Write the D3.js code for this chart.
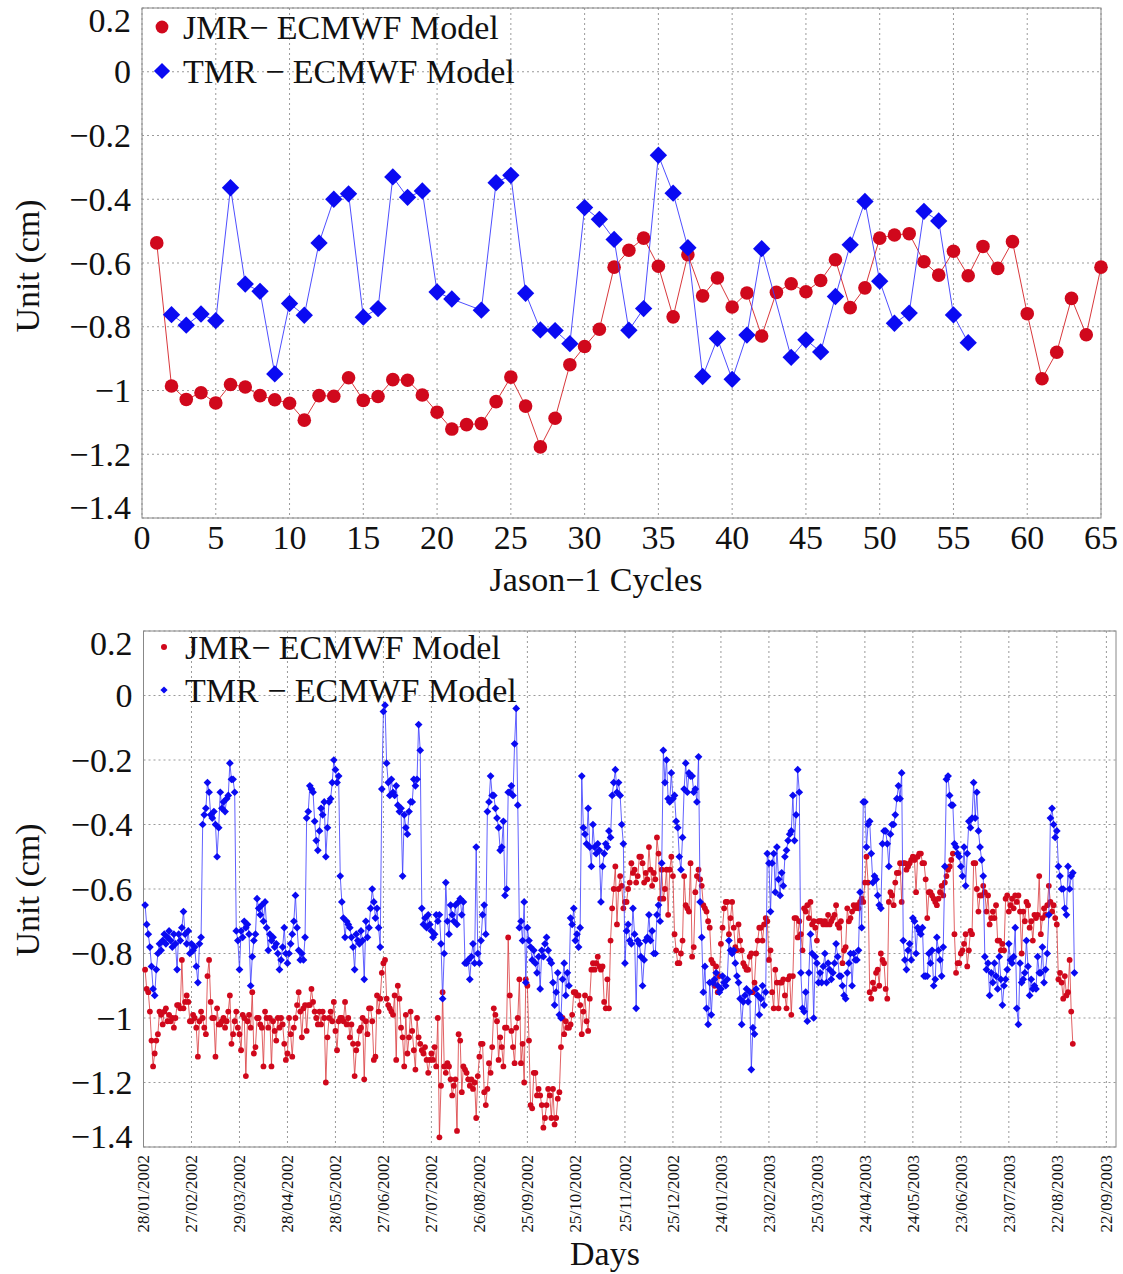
<!DOCTYPE html>
<html>
<head>
<meta charset="utf-8">
<script src="https://cdn.jsdelivr.net/npm/d3@7"></script>
<style>
  body { margin: 0; background: #fff; }
  svg text { font-family: "Liberation Serif", "DejaVu Serif", serif; fill: #111; }
  .grid line { stroke: #9a9a9a; stroke-width: 1; stroke-dasharray: 2,3; }
  .frame { fill: none; stroke: #888; stroke-width: 1; }
</style>
</head>
<body>
<svg id="chart" width="1123" height="1274"></svg>
<script>
// ---- top panel: mean per Jason-1 cycle ----
const cycles = d3.range(1, 66);
const jmrCycle = [-0.537,-0.986,-1.028,-1.007,-1.039,-0.981,-0.989,-1.016,-1.029,-1.040,
  -1.093,-1.016,-1.018,-0.960,-1.031,-1.019,-0.966,-0.968,-1.014,-1.068,
  -1.121,-1.107,-1.104,-1.035,-0.958,-1.049,-1.177,-1.087,-0.919,-0.862,
  -0.808,-0.613,-0.560,-0.522,-0.610,-0.769,-0.574,-0.703,-0.647,-0.738,
  -0.694,-0.829,-0.692,-0.665,-0.690,-0.655,-0.590,-0.740,-0.678,-0.522,
  -0.512,-0.508,-0.596,-0.638,-0.563,-0.640,-0.548,-0.617,-0.533,-0.759,
  -0.963,-0.880,-0.711,-0.825,-0.613];
const tmrCycle = [null,-0.762,-0.795,-0.760,-0.781,-0.364,-0.666,-0.689,-0.948,-0.727,
  -0.764,-0.537,-0.400,-0.383,-0.770,-0.743,-0.330,-0.394,-0.374,-0.691,
  -0.713,null,-0.748,-0.348,-0.325,-0.695,-0.810,-0.812,-0.853,-0.426,
  -0.463,-0.526,-0.811,-0.743,-0.262,-0.381,-0.552,-0.956,-0.837,-0.965,
  -0.826,-0.555,null,-0.896,-0.841,-0.879,-0.705,-0.543,-0.407,-0.657,
  -0.789,-0.757,-0.438,-0.468,-0.763,-0.850,null,null,null,null,
  null,null,null,null,null];
const cycleTicks = [0,5,10,15,20,25,30,35,40,45,50,55,60,65];
const valueTicks = [0.2,0,-0.2,-0.4,-0.6,-0.8,-1,-1.2,-1.4];

// ---- bottom panel: daily values, first value on the day after firstDay ----
const firstDay = "28/01/2002";
const jmrDaily = [
  -0.85,-0.91,-0.92,-0.98,-1.07,-1.15,-1.11,-1.07,-1.05,-0.98,-0.99,-1.02,-0.98,-0.97,-1.01,-0.99,-1.01,-1.00,-1.03,-1.00,
  -0.96,-0.96,-0.97,-0.82,-0.97,-0.95,-0.93,-0.95,-1.01,-1.01,-0.99,-1.00,-1.03,-1.12,-1.01,-0.98,-1.00,-1.03,-1.05,-0.87,
  -0.82,-0.95,-1.00,-1.00,-1.12,-0.97,-1.02,-1.02,-1.01,-1.00,-1.03,-1.01,-0.98,-0.93,-1.08,-1.05,-1.01,-0.98,-1.03,-1.05,
  -1.10,-0.99,-1.00,-1.18,-1.01,-0.99,-1.03,-0.92,-1.11,-1.09,-1.00,-1.00,-1.02,-1.03,-1.15,-0.98,-1.00,-1.03,-1.00,-1.15,
  -1.01,-1.04,-1.07,-1.00,-1.03,-1.00,-1.02,-1.08,-1.13,-1.11,-1.00,-1.05,-1.12,-1.03,-1.00,-0.96,-0.92,-0.98,-1.06,-0.97,
  -0.96,-1.04,-0.96,-0.96,-0.91,-0.95,-0.98,-1.00,-1.02,-0.98,-1.02,-0.98,-1.00,-1.20,-1.06,-1.00,-0.98,-1.01,-0.95,-1.04,
  -1.10,-1.01,-1.00,-1.00,-1.01,-0.95,-1.02,-1.00,-1.06,-1.02,-1.08,-1.18,-1.10,-1.08,-1.04,-1.03,-1.00,-1.19,-1.01,-1.05,
  -0.97,-0.97,-1.01,-1.13,-1.12,-0.93,-0.98,
  -0.94,-0.86,-0.83,-0.82,-0.94,-0.96,-0.97,-0.98,-0.99,-0.93,-1.13,-0.90,-0.94,-1.03,-1.06,-1.15,-0.99,-1.11,-1.06,-0.98,-1.04,
  -1.10,-1.16,-1.00,-1.06,-1.08,-1.10,-1.11,-1.09,-1.13,-1.17,-1.13,-1.11,-1.13,-1.09,-1.15,-1.00,-1.37,-1.21,-0.92,-1.15,-1.17,
  -1.14,-1.15,-1.19,-1.24,-1.21,-1.19,-1.35,-1.05,-1.07,-1.23,-1.15,-1.16,-1.17,-1.19,-1.21,-1.19,-1.22,-1.20,-1.31,-1.18,-1.12,
  -1.08,-1.08,-1.23,-1.27,-1.22,-1.14,-1.17,-1.09,-0.97,-0.99,-1.01,-1.13,-1.06,-1.09,-1.15,-1.03,-1.03,-0.75,-0.93,-1.04,-1.09,
  -1.14,-1.03,-1.00,-0.88,-1.14,-1.08,-1.20,-0.88,-0.90,-1.07,-1.27,-1.28,-1.17,-1.17,-1.24,-1.22,-1.24,-1.27,-1.34,-1.31,-1.27,
  -1.22,-1.24,-1.31,-1.22,-1.33,-1.31,-1.25,-1.23,-1.09,-1.00,-1.05,-1.01,-1.03,-1.03,-1.02,-0.99,-0.92,-0.92,-0.93,-0.93,-0.96,
  -1.05,-0.98,-0.93,-1.01,-1.04,-0.94,-0.85,-0.83,-0.85,-0.83,-0.81,-0.84,-0.85,-0.84,-0.95,-0.97,-0.88,-0.97,-0.76,-0.66,-0.60,
  -0.53,-0.71,-0.60,-0.56,-0.59,-0.66,-0.64,
  -0.64,-0.60,-0.58,-0.52,-0.55,-0.54,-0.58,-0.56,-0.50,-0.50,-0.52,-0.58,-0.55,-0.57,-0.47,-0.54,-0.59,-0.55,-0.57,-0.44,
  -0.49,-0.63,-0.54,-0.63,-0.60,-0.54,-0.68,-0.54,-0.50,-0.56,-0.74,-0.79,-0.83,-0.83,-0.80,-0.76,-0.56,-0.65,-0.66,-0.67,
  -0.52,-0.81,-0.78,-0.61,-0.56,-0.54,-0.57,-0.59,-0.65,-0.66,-0.67,-0.70,-0.72,-0.82,-0.83,-0.90,-0.84,-0.92,-0.87,-0.77,
  -0.72,-0.66,-0.64,-0.64,-0.74,-0.69,-0.64,-0.72,-0.78,-0.79,-0.71,-0.76,-0.79,-0.83,-0.84,-0.85,-0.85,-0.81,-0.80,-0.92,
  -0.89,-0.80,-0.76,-0.72,-0.72,-0.76,-0.71,-0.69,-0.70,-0.82,-0.79,-0.92,-0.97,-0.85,-0.89,-0.97,-0.89,-0.89,-0.88,-0.93,
  -0.97,-0.88,-0.87,-0.99,-0.87,-0.69,-0.69,-0.75,-0.70,-0.74,-0.79,-0.66,-0.67,-0.65,-0.69,-0.64,-0.71,-0.70,-0.72,-0.76,
  -0.70,-0.70,-0.70,-0.71,-0.70,-0.71,-0.68,-0.71,-0.70,-0.69,-0.68,-0.65,-0.71,-0.72,-0.70,-0.83,-0.79,-0.78,-0.66,-0.70,
  -0.69,-0.67,-0.65,-0.66,-0.65,-0.66,-0.64,-0.63,
  -0.64,-0.58,-0.50,-0.58,-0.92,-0.94,-0.89,-0.91,-0.86,-0.85,-0.90,-0.80,-0.82,-0.83,-0.91,-0.94,-0.64,-0.61,-0.62,-0.65,
  -0.58,-0.55,-0.55,-0.52,-0.64,-0.52,-0.52,-0.54,-0.53,-0.52,-0.51,-0.50,-0.51,-0.61,-0.50,-0.49,-0.49,-0.52,-0.52,-0.57,
  -0.69,-0.61,-0.61,-0.62,-0.63,-0.64,-0.65,-0.63,-0.61,-0.59,-0.62,-0.58,-0.56,-0.54,-0.53,-0.51,-0.49,-0.74,-0.86,-0.83,
  -0.83,-0.80,-0.79,-0.77,-0.74,-0.84,-0.79,-0.73,-0.74,-0.52,-0.52,-0.60,-0.67,-0.62,-0.62,-0.59,-0.61,-0.67,-0.62,-0.71,
  -0.69,-0.67,-0.69,-0.65,-0.76,-0.76,-0.79,-0.77,-0.79,-0.63,-0.62,-0.67,-0.65,-0.63,-0.66,-0.62,-0.64,-0.62,-0.67,-0.80,
  -0.67,-0.70,-0.64,-0.65,-0.72,-0.70,-0.76,-0.68,-0.69,-0.68,-0.56,-0.74,-0.69,-0.66,-0.68,-0.65,-0.59,-0.64,-0.67,-0.65,
  -0.69,-0.71,-0.88,-0.86,-0.89,-0.94,-0.87,-0.93,-0.92,-0.82,-0.98,-1.08
];
const tmrDaily = [
  -0.65,-0.71,-0.74,-0.78,-0.84,-0.91,-0.93,-0.85,-0.80,-0.77,-0.79,-0.76,-0.74,-0.77,-0.75,-0.73,-0.76,-0.78,-0.74,-0.77,
  -0.85,-0.74,-0.76,-0.72,-0.67,-0.74,-0.77,-0.73,-0.80,-0.77,-0.79,-0.78,-0.84,-0.89,-0.77,-0.75,
  -0.40,-0.37,-0.35,-0.27,-0.30,-0.37,-0.38,-0.36,-0.40,-0.50,-0.41,-0.30,-0.35,-0.33,-0.36,-0.32,-0.31,-0.21,-0.26,-0.26,-0.30,
  -0.73,-0.76,-0.85,-0.73,-0.75,-0.70,-0.72,-0.71,-0.74,-0.90,-0.81,-0.76,-0.74,-0.63,-0.66,-0.68,-0.65,-0.70,-0.64,-0.72,
  -0.79,-0.74,-0.76,-0.75,-0.78,-0.77,-0.80,-0.85,-0.82,-0.78,-0.72,-0.80,-0.83,-0.80,-0.77,-0.74,-0.70,-0.62,-0.72,-0.79,
  -0.82,-0.80,-0.82,-0.75,
  -0.38,-0.36,-0.28,-0.29,-0.30,-0.39,-0.45,-0.48,-0.42,-0.35,-0.37,-0.33,-0.50,-0.41,-0.33,-0.32,-0.27,-0.20,-0.23,-0.27,-0.25,
  -0.56,-0.64,-0.69,-0.75,-0.70,-0.71,-0.72,-0.75,-0.78,-0.85,-0.74,-0.76,-0.77,-0.73,-0.76,-0.88,-0.70,-0.75,-0.72,-0.66,
  -0.60,-0.64,-0.69,-0.66,-0.72,-0.78,
  -0.29,-0.05,-0.03,-0.21,-0.27,-0.31,-0.26,-0.30,-0.31,-0.28,-0.34,-0.36,-0.35,-0.56,-0.37,-0.41,-0.43,-0.36,-0.33,-0.33,
  -0.26,-0.28,-0.26,-0.09,-0.17,
  -0.66,-0.71,-0.69,-0.72,-0.68,-0.71,-0.73,-0.75,-0.74,-0.68,-0.70,-0.68,-0.77,-0.94,-0.80,-0.58,-0.70,-0.74,-0.65,-0.68,
  -0.70,-0.65,-0.71,-0.64,-0.63,-0.68,-0.64,-0.83,-0.83,-0.82,-0.88,-0.81,-0.77,-0.83,-0.47,-0.80,-0.83,-0.76,-0.68,-0.65,-0.74,
  -0.36,-0.33,-0.25,-0.31,-0.31,-0.35,-0.38,-0.41,-0.48,-0.47,-0.39,-0.62,-0.60,-0.30,-0.30,-0.28,-0.31,-0.15,-0.04,-0.34,
  -0.72,-0.70,-0.76,-0.64,-0.89,-0.72,-0.76,-0.78,-0.82,-0.79,-0.83,-0.86,-0.81,-0.91,-0.79,-0.81,-0.77,-0.75,-0.79,-0.82,
  -0.83,-0.89,-0.96,-0.92,-0.86,-0.99,-1.00,-0.88,-0.83,-0.93,-0.86,-0.90,-0.69,-0.71,-0.66,-0.76,-0.74,-0.78,-0.72,
  -0.25,-0.41,-0.43,-0.46,-0.35,-0.47,-0.53,-0.40,-0.47,-0.49,-0.46,-0.48,-0.64,-0.53,-0.49,-0.46,-0.47,-0.42,-0.44,-0.31,
  -0.27,-0.23,-0.30,-0.27,-0.31,-0.40,-0.46,
  -0.83,-0.73,-0.71,-0.76,-0.77,-0.66,-0.74,-0.97,-0.76,-0.77,-0.81,-0.90,-0.82,-0.76,-0.75,-0.68,-0.76,-0.73,-0.80,-0.80,
  -0.68,-0.65,-0.70,
  -0.52,-0.17,-0.27,-0.20,-0.32,-0.33,-0.24,-0.32,-0.31,-0.39,-0.41,-0.50,-0.54,-0.44,-0.29,-0.21,-0.30,-0.24,-0.25,-0.25,
  -0.30,-0.29,-0.33,-0.19,-0.64,
  -0.75,-0.92,-0.84,-0.97,-1.02,-0.89,-0.99,-0.89,-0.88,-0.86,-0.90,-0.92,-0.91,-0.87,-0.89,-0.90,-0.88,-0.76,-0.79,-0.80,
  -0.79,-0.83,-0.87,-0.89,-0.94,-1.02,-0.95,-0.93,-0.91,-0.95,-0.92,-1.16,-1.03,-1.05,-0.91,-0.93,-0.99,-0.94,-0.90,-0.96,-0.92,
  -0.49,-0.52,-0.67,-0.52,-0.49,-0.61,-0.47,-0.57,-0.62,-0.55,-0.59,-0.50,-0.48,-0.45,-0.43,-0.42,-0.31,-0.45,-0.37,-0.23,-0.30,
  -0.86,-0.97,-0.98,-0.92,-1.01,-0.86,-0.74,-0.80,-1.00,-0.81,-0.83,-0.89,-0.86,-0.89,-0.84,-0.80,-0.89,-0.83,-0.85,-0.88,
  -0.86,-0.83,-0.77,-0.81,-0.87,-0.87,-0.90,-0.93,-0.94,-0.86,-0.83,-0.80,-0.90,-0.80,-0.82,-0.82,-0.79,-0.61,-0.72,
  -0.33,-0.33,-0.47,-0.40,-0.39,-0.49,-0.58,-0.56,-0.57,-0.62,-0.65,-0.66,-0.46,-0.42,-0.42,-0.46,-0.53,-0.43,-0.40,-0.40,
  -0.37,-0.32,-0.28,-0.32,-0.24,
  -0.76,-0.82,-0.85,-0.79,-0.77,-0.82,-0.69,-0.70,-0.80,-0.72,-0.73,-0.74,-0.72,-0.87,-0.87,-0.87,-0.80,-0.83,-0.79,-0.90,
  -0.88,-0.75,-0.79,-0.82,-0.87,-0.78,
  -0.53,-0.26,-0.25,-0.31,-0.34,-0.34,-0.46,-0.47,-0.49,-0.50,-0.53,-0.56,-0.47,-0.59,-0.49,-0.39,-0.41,-0.38,-0.27,-0.38,
  -0.30,-0.42,-0.47,-0.51,-0.56,
  -0.81,-0.85,-0.83,-0.93,-0.86,-0.89,-0.83,-0.87,-0.91,-0.81,-0.88,-0.96,-0.90,-0.88,-0.85,-0.77,-0.82,-0.83,-0.81,-0.72,
  -0.97,-1.02,-0.83,-0.89,-0.88,-0.86,-0.76,-0.84,-0.93,-0.88,-0.91,-0.90,-0.91,-0.81,-0.86,-0.86,-0.78,-0.89,-0.85,-0.80,-0.68,
  -0.38,-0.35,-0.40,-0.44,-0.42,-0.53,-0.56,-0.60,-0.60,-0.66,-0.68,-0.53,-0.60,-0.56,-0.55,-0.86
];
const dateTicks = ["28/01/2002","27/02/2002","29/03/2002","28/04/2002","28/05/2002","27/06/2002",
  "27/07/2002","26/08/2002","25/09/2002","25/10/2002","25/11/2002","25/12/2002","24/01/2003",
  "23/02/2003","25/03/2003","24/04/2003","24/05/2003","23/06/2003","23/07/2003","22/08/2003","22/09/2003"];

const seriesNames = ["JMR\u2212 ECMWF Model", "TMR \u2212 ECMWF Model"];
const redMark = "#d0081c", blueMark = "#0a0af2";
const redLine = "#d9383c", blueLine = "#3a3aff";

let svg = d3.select("#chart");
let parseDay = d3.utcParse("%d/%m/%Y");

let fmtVal = function(v) {
  if (v === 0) return "0";
  return (v < 0 ? "\u2212" : "") + d3.format("~g")(Math.abs(v));
};

let diamond = function(size) {
  return d3.symbol().type(d3.symbolSquare).size(size)();
};

// frame, grid and y labels shared by both panels
let drawFrame = function(box, x, y, xTickVals, titleY) {
  let g = svg.append("g");
  let grid = g.append("g").attr("class", "grid");
  grid.selectAll(".gy").data(valueTicks).join("line")
    .attr("x1", box.left).attr("x2", box.right)
    .attr("y1", d => y(d)).attr("y2", d => y(d));
  grid.selectAll(".gx").data(xTickVals).join("line")
    .attr("x1", d => x(d)).attr("x2", d => x(d))
    .attr("y1", box.top).attr("y2", box.bottom);
  g.append("rect").attr("class", "frame")
    .attr("x", box.left).attr("y", box.top)
    .attr("width", box.right - box.left).attr("height", box.bottom - box.top);

  // edge labels are pulled inward, as in the original
  g.selectAll(".ylab").data(valueTicks).join("text")
    .attr("x", box.left - 11)
    .attr("y", d => y(d) + (d === 0.2 ? 12 : d === -1.4 ? -11 : 0))
    .attr("dy", "0.34em")
    .attr("text-anchor", "end")
    .style("font-size", "34px")
    .text(fmtVal);

  g.append("text")
    .attr("transform", "translate(39," + titleY + ") rotate(-90)")
    .attr("text-anchor", "middle")
    .style("font-size", "34px")
    .text("Unit (cm)");
  return g;
};

let drawSeries = function(g, pts, x, y, opt) {
  g.append("path")
    .datum(pts)
    .attr("fill", "none")
    .attr("stroke", opt.lineColor)
    .attr("stroke-width", opt.lineWidth)
    .attr("d", d3.line().x(d => x(d.x)).y(d => y(d.v)));
  if (opt.shape === "circle") {
    g.selectAll(null).data(pts).join("circle")
      .attr("cx", d => x(d.x)).attr("cy", d => y(d.v))
      .attr("r", opt.r).attr("fill", opt.color);
  } else {
    g.selectAll(null).data(pts).join("path")
      .attr("d", diamond(opt.size))
      .attr("transform", d => "translate(" + x(d.x) + "," + y(d.v) + ") rotate(45)")
      .attr("fill", opt.color);
  }
};

let drawLegend = function(g, lx, ys, r, size) {
  g.append("circle").attr("cx", lx).attr("cy", ys[0]).attr("r", r).attr("fill", redMark);
  g.append("path").attr("d", diamond(size))
    .attr("transform", "translate(" + lx + "," + ys[1] + ") rotate(45)")
    .attr("fill", blueMark);
  g.selectAll(".leg").data(seriesNames).join("text")
    .attr("x", lx + 21)
    .attr("y", (d, i) => ys[i])
    .attr("dy", "0.34em")
    .style("font-size", "34px")
    .text(d => d);
};

// ---------- top chart ----------
let topBox = {left: 142, right: 1101, top: 8, bottom: 518};
let xTop = d3.scaleLinear().domain([0, 65]).range([topBox.left, topBox.right]);
let yTop = d3.scaleLinear().domain([-1.4, 0.2]).range([topBox.bottom, topBox.top]);
let gTop = drawFrame(topBox, xTop, yTop, cycleTicks, 266);

gTop.selectAll(".xlab").data(cycleTicks).join("text")
  .attr("x", d => xTop(d)).attr("y", 549)
  .attr("text-anchor", "middle")
  .style("font-size", "34px")
  .text(d => d);
gTop.append("text")
  .attr("x", 596).attr("y", 591)
  .attr("text-anchor", "middle")
  .style("font-size", "34px")
  .text("Jason\u22121 Cycles");

let jmrPts = cycles.map((c, i) => ({x: c, v: jmrCycle[i]}));
let tmrPts = cycles.map((c, i) => ({x: c, v: tmrCycle[i]})).filter(d => d.v !== null);
drawSeries(gTop, jmrPts, xTop, yTop, {lineColor: redLine, lineWidth: 1, color: redMark, shape: "circle", r: 6.8});
drawSeries(gTop, tmrPts, xTop, yTop, {lineColor: blueLine, lineWidth: 0.9, color: blueMark, shape: "diamond", size: 150});
drawLegend(gTop, 162, [27, 71], 6.4, 130);

// ---------- bottom chart ----------
let botBox = {left: 143.5, right: 1116, top: 631, bottom: 1147};
let t0 = parseDay(firstDay);
let xBot = d3.scaleUtc().domain([t0, d3.utcDay.offset(t0, 608)]).range([botBox.left, botBox.right]);
let yBot = d3.scaleLinear().domain([-1.4, 0.2]).range([botBox.bottom, botBox.top]);
let tickDates = dateTicks.map(parseDay);
let gBot = drawFrame(botBox, xBot, yBot, tickDates, 890);

gBot.selectAll(".xlab").data(dateTicks).join("text")
  .attr("transform", d => "translate(" + xBot(parseDay(d)) + ",1155) rotate(-90)")
  .attr("dy", "0.34em")
  .attr("text-anchor", "end")
  .style("font-size", "17px")
  .text(d => d);
gBot.append("text")
  .attr("x", 605).attr("y", 1265)
  .attr("text-anchor", "middle")
  .style("font-size", "34px")
  .text("Days");

let jmrDayPts = jmrDaily.map((v, i) => ({x: d3.utcDay.offset(t0, i + 1), v: v}));
let tmrDayPts = tmrDaily.map((v, i) => ({x: d3.utcDay.offset(t0, i + 1), v: v}));
drawSeries(gBot, jmrDayPts, xBot, yBot, {lineColor: redLine, lineWidth: 0.8, color: redMark, shape: "circle", r: 2.9});
drawSeries(gBot, tmrDayPts, xBot, yBot, {lineColor: blueLine, lineWidth: 0.8, color: blueMark, shape: "diamond", size: 30});
drawLegend(gBot, 164, [647, 690], 3, 26);
</script>
</body>
</html>
